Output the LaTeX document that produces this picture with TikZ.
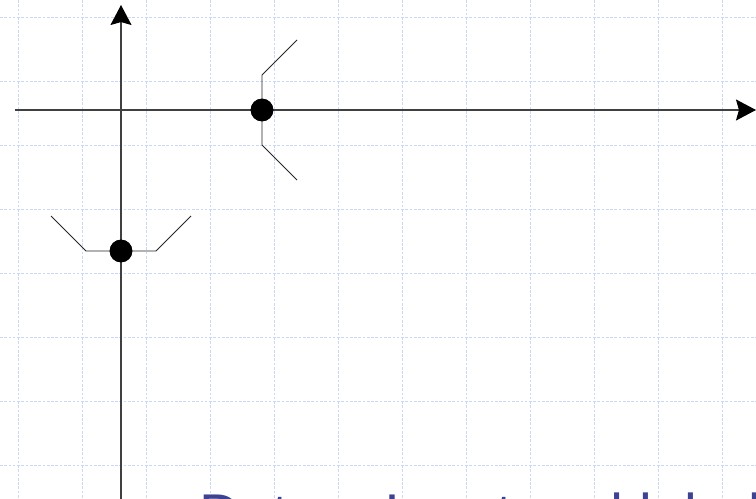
\documentclass[tikz,border=0pt]{standalone}
\usepackage{fontspec}
\newfontfamily\captionfont{Liberation Sans}
\usetikzlibrary{arrows.meta}
\definecolor{gridblue}{RGB}{204,215,247}
\definecolor{titleblue}{RGB}{62,66,146}
\tikzset{
  gridline/.style={gridblue,line width=0.75pt,dash pattern=on 2pt off 1.2pt},
  axis/.style={black!75,line width=0.9pt},
  wedge/.style={black!85,line width=0.7pt},
  dot/.style={draw=none,fill=black,circle,inner sep=0pt,minimum size=17pt},
  caption/.style={titleblue,anchor=base west,inner sep=0pt,font=\captionfont\fontsize{43.1}{50}\selectfont}
}
\begin{document}
\begin{tikzpicture}[x=0.75pt,y=-0.75pt,>={Stealth[length=15pt,width=15.75pt,inset=2.2pt,color=black]}]
  \useasboundingbox (0,0) rectangle (756,499);
  \clip (0,0) rectangle (756,499);

  % graph paper
  \foreach \gx in {0,...,11}
    \draw[gridline] (18.7+64*\gx,0) -- (18.7+64*\gx,499);
  \foreach \gy in {0,...,7}
    \draw[gridline] (0,17.3+64*\gy) -- (756,17.3+64*\gy);

  \coordinate (xl) at (15,110);
  \coordinate (xr) at (756,110);
  \coordinate (yb) at (121,499);
  \coordinate (yt) at (121,5);
  \draw[->,axis] (xl) -- (xr);
  \draw[->,axis] (yb) -- (yt);

  \node[dot] (p) at (262,110) {};
  \node[dot] (q) at (121,251) {};

  \draw[wedge] ([shift={(35,-70)}]p.center) -- ([shift={(0,-35)}]p.center)
    -- ([shift={(0,35)}]p.center) -- ([shift={(35,70)}]p.center);
  \draw[wedge] ([shift={(-70,-35)}]q.center) -- ([shift={(-35,0)}]q.center)
    -- ([shift={(35,0)}]q.center) -- ([shift={(70,-35)}]q.center);
  \node[dot] at (p) {};
  \node[dot] at (q) {};

  \node[caption] (title) at (198.8,534) {Data – Input and label};
\end{tikzpicture}
\end{document}
